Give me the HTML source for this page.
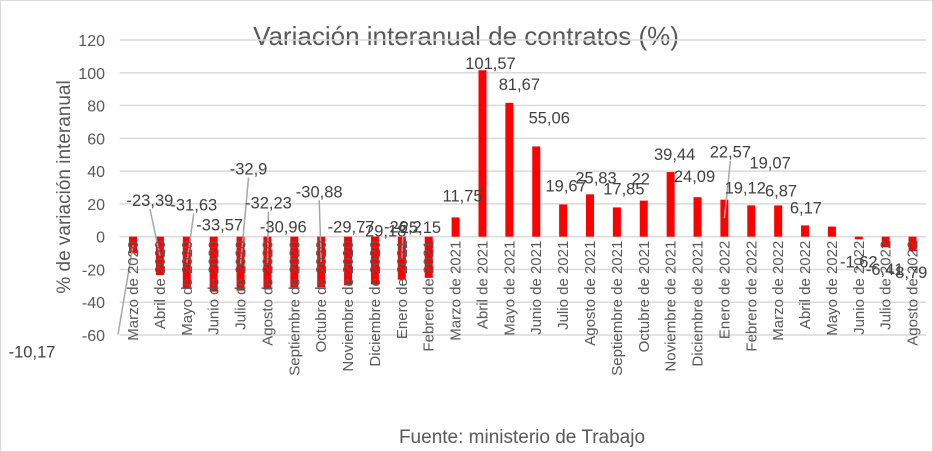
<!DOCTYPE html>
<html><head><meta charset="utf-8"><style>
body{margin:0;background:#fff;}
svg{display:block;font-family:"Liberation Sans",sans-serif;}
</style></head><body>
<svg id="chart" width="933" height="452" viewBox="0 0 933 452">
<rect x="0.5" y="0.5" width="932" height="451" fill="#fff" stroke="#d9d9d9"/>
<text x="466" y="45" text-anchor="middle" font-size="26" fill="#595959">Variación interanual de contratos  (%)</text>
<text transform="translate(70,187) rotate(-90)" text-anchor="middle" font-size="19" fill="#595959">% de variación interanual</text>
<text x="522" y="443" text-anchor="middle" font-size="19" fill="#595959">Fuente: ministerio de Trabajo</text>
<g id="grid"></g><g id="bars"></g><g id="labels"></g>
</svg>
<script>
const categories=["Marzo de 2020","Abril de 2020","Mayo de 2020","Junio de 2020","Julio de 2020","Agosto de 2020","Septiembre de 2020","Octubre de 2020","Noviembre de 2020","Diciembre de 2020","Enero de 2021","Febrero de 2021","Marzo de 2021","Abril de 2021","Mayo de 2021","Junio de 2021","Julio de 2021","Agosto de 2021","Septiembre de 2021","Octubre de 2021","Noviembre de 2021","Diciembre de 2021","Enero de 2022","Febrero de 2022","Marzo de 2022","Abril de 2022","Mayo de 2022","Junio de 2022","Julio de 2022","Agosto de 2022"];
const values=[-10.17,-23.39,-31.63,-33.57,-32.9,-32.23,-30.96,-30.88,-29.77,-29.18,-26.2,-25.15,11.75,101.57,81.67,55.06,19.67,25.83,17.85,22,39.44,24.09,22.57,19.12,19.07,6.87,6.17,-1.62,-6.41,-8.79];
const yTicks=[120,100,80,60,40,20,0,-20,-40,-60];
const labelDx=[-101,-10,7,6,8,1,-11,-2,3,8,1,-11,7,8,10,13,3,6,7,-3,4,-3,6,-6,-8,-24,-26,0,-1,-4];
const labelDy=[98,-75,-84,-67,-122,-87,-61,-96,-59,-54,-53,-51,-22,-7,-19,-29,-19,-17,-19,-22,-18,-21,-48,-18,-43,-35,-19,22,22,21];
const leaders=[0,1,2,4,5,7,10,22];
const NS="http://www.w3.org/2000/svg";
const L=119.6,R=926,T=40,B=335,ymin=-60,ymax=120;
const y=v=>B-(v-ymin)/(ymax-ymin)*(B-T);
const step=(R-L)/categories.length;
const x=i=>L+step*(i+0.5);
function mk(t,a,p){const e=document.createElementNS(NS,t);for(const k in a)e.setAttribute(k,a[k]);p.appendChild(e);return e;}
const grid=document.getElementById('grid'),bars=document.getElementById('bars'),labels=document.getElementById('labels');
yTicks.forEach(t=>{
 const g=mk('line',{x1:L,x2:R,y1:y(t),y2:y(t),stroke:'#d9d9d9','stroke-width':1.5},grid);
 
 
 const tx=mk('text',{x:105,y:y(t)+6,'text-anchor':'end','font-size':16,fill:'#595959'},grid);
 tx.textContent=t;
 
 
});
values.forEach((v,i)=>{
 const bw=8,y0=y(0),yv=y(v);
 const b=mk('rect',{x:x(i)-bw/2,y:Math.min(y0,yv),width:bw,height:Math.abs(yv-y0),fill:'#ff0000'},bars);
 
 
 const lx=x(i)+labelDx[i],ly=yv+labelDy[i];
 if(leaders.includes(i)){
  const ln=mk('line',{x1:lx+(i===0?86:0),y1:ly+(i===0?-17:9),x2:x(i),y2:(yv+y0)/2,stroke:'#a6a6a6','stroke-width':1.5},labels);
  
  
 }
 const c=mk('text',{transform:`translate(${x(i)+5},${y(0)+4}) rotate(-90)`,'text-anchor':'end','font-size':15,fill:'#595959'},labels);
 c.textContent=categories[i];
 
 
 const d=mk('text',{x:lx,y:ly+6,'text-anchor':'middle','font-size':16.5,fill:'#404040'},labels);
 d.textContent=String(v).replace('.',',');
 
 
});
</script>
</body></html>
